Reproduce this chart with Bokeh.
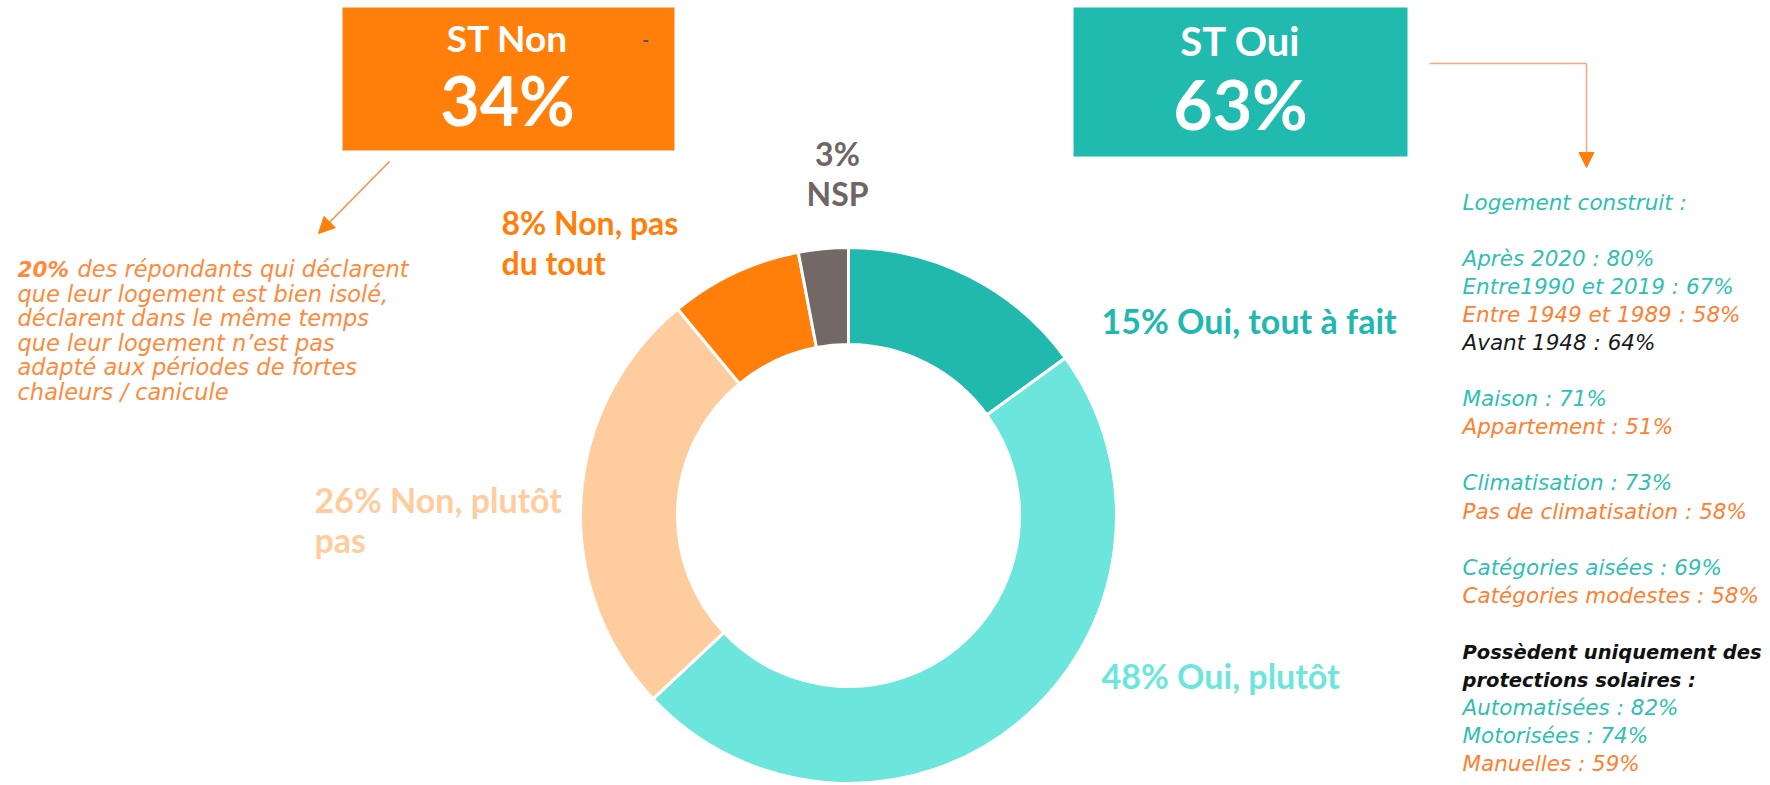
import numpy as np
from bokeh.plotting import figure
from bokeh.models import Range1d, ColumnDataSource, Arrow, NormalHead
from bokeh.core.properties import value
from bokeh.embed import file_html
from bokeh.resources import INLINE

# ---------------- data ----------------
categories = ["Oui, tout à fait", "Oui, plutôt", "Non, plutôt pas", "Non, pas du tout", "NSP"]
values = [15, 48, 26, 8, 3]
slice_colors = ["#21B8AD", "#6CE6DC", "#FFCC9E", "#FF7F0A", "#736866"]
label_colors = ["#21B8AD", "#6CE6DC", "#FFCC9E", "#FF7F0A", "#6E6564"]

st_labels = ["ST Non", "ST Oui"]
st_values = [34, 63]
st_colors = ["#FF7F0A", "#21BAAF"]

left_note_bold = "20%"
left_note_lines = [
    "des répondants qui déclarent",
    "que leur logement est bien isolé,",
    "déclarent dans le même temps",
    "que leur logement n’est pas",
    "adapté aux périodes de fortes",
    "chaleurs / canicule",
]

# right panel: (line index, text, style)
right_lines = [
    (0, "Logement construit :", "teal"),
    (2, "Après 2020 : 80%", "teal"),
    (3, "Entre1990 et 2019 : 67%", "teal"),
    (4, "Entre 1949 et 1989 : 58%", "orange"),
    (5, "Avant 1948 : 64%", "black"),
    (7, "Maison : 71%", "teal"),
    (8, "Appartement : 51%", "orange"),
    (10, "Climatisation : 73%", "teal"),
    (11, "Pas de climatisation : 58%", "orange"),
    (13, "Catégories aisées : 69%", "teal"),
    (14, "Catégories modestes : 58%", "orange"),
    (16, "Possèdent uniquement des", "bold"),
    (17, "protections solaires :", "bold"),
    (18, "Automatisées : 82%", "teal"),
    (19, "Motorisées : 74%", "teal"),
    (20, "Manuelles : 59%", "orange"),
]

# ---------------- canvas (1 unit = 1 px, y measured from top) ----------------
W, H = 1770, 785
def Y(sy):
    return H - sy

p = figure(width=W, height=H, x_range=Range1d(0, W), y_range=Range1d(0, H),
           output_backend="svg", toolbar_location=None, min_border=0,
           x_axis_location=None, y_axis_location=None)
p.grid.visible = False
p.outline_line_color = None
p.background_fill_color = "white"
p.border_fill_color = "white"

HEAD = value("Lato")
BODY = value("DejaVu Sans")
K = 0.42  # baseline correction (fraction of font size)

def T(x, sy, txt, color, font=HEAD, style="bold", fs=33, align="left"):
    p.text(x=[x], y=[Y(sy - K * fs)], text=[txt], text_color=color, text_font=font,
           text_font_style=style, text_font_size=f"{fs}px", text_align=align,
           text_baseline="alphabetic")

# ---------------- donut ----------------
cx, cy = 848, Y(515)
frac = np.cumsum([0] + values) / float(sum(values))
start = np.pi / 2 - 2 * np.pi * frac[:-1]
end = np.pi / 2 - 2 * np.pi * frac[1:]
src = ColumnDataSource(dict(start=start, end=end, color=slice_colors, cat=categories))
p.annular_wedge(x=cx, y=cy, inner_radius=171, outer_radius=268, start_angle="start", end_angle="end",
                direction="clock", fill_color="color", line_color="white", line_width=3, source=src)

# donut labels
T(1101, 334, f"{values[0]}% {categories[0]}", label_colors[0], fs=34)
T(1101, 689, f"{values[1]}% {categories[1]}", label_colors[1], fs=34)
T(314, 513, f"{values[2]}% Non, plutôt", label_colors[2], fs=34)
T(314, 553, "pas", label_colors[2], fs=34)
T(501, 235, f"{values[3]}% Non, pas", label_colors[3], fs=32)
T(501, 275, "du tout", label_colors[3], fs=32)
T(837, 166, f"{values[4]}%", label_colors[4], fs=32, align="center")
T(837, 206, categories[4], label_colors[4], fs=32, align="center")

# ---------------- ST boxes ----------------
boxes = [(342, 674, 7, 150, 507, 53, 37, 128, 68), (1073, 1407, 7, 156, 1240, 57, 40, 132, 68)]
for (l, r, t, b, mx, by1, fs1, by2, fs2), lab, v, col in zip(boxes, st_labels, st_values, st_colors):
    p.quad(left=[l], right=[r], top=[Y(t)], bottom=[Y(b)], fill_color=col, line_color=None)
    T(mx, by1, lab, "white", fs=fs1, align="center")
    T(mx, by2, f"{v}%", "white", fs=fs2, align="center")
T(645, 47, "-", "#44546A", fs=18, align="center")

# ---------------- arrows ----------------
p.add_layout(Arrow(end=NormalHead(size=16, fill_color="#FF7F0A", line_color="#FF7F0A"),
                   x_start=389, y_start=Y(161), x_end=318, y_end=Y(233),
                   line_color="#FF8C3A", line_width=1.5))
p.line(x=[1429, 1586], y=[Y(63), Y(63)], line_color="#FFA57D", line_width=1.5)
p.add_layout(Arrow(end=NormalHead(size=15, fill_color="#FF7F0A", line_color="#FF7F0A"),
                   x_start=1586, y_start=Y(63), x_end=1586, y_end=Y(167),
                   line_color="#FFA57D", line_width=1.5))

# ---------------- left note ----------------
NOTE_C = "#FF8A3C"
T(17, 278, left_note_bold, NOTE_C, font=BODY, style="bold italic", fs=21.5)
for i, line in enumerate(left_note_lines):
    x0 = 77 if i == 0 else 17
    T(x0, 278 + 24.6 * i, line, NOTE_C, font=BODY, style="italic", fs=22.5)

# ---------------- right panel ----------------
style_map = {
    "teal": ("#2FBFB4", "italic", 21.5),
    "orange": ("#FF8030", "italic", 21.5),
    "black": ("#1A1A1A", "italic", 21.5),
    "bold": ("#111111", "bold italic", 19.5),
}
for idx, txt, st in right_lines:
    col, fst, fs = style_map[st]
    T(1462, 211 + 28.05 * idx, txt, col, font=BODY, style=fst, fs=fs)

open("out.html", "w").write(file_html(p, INLINE))
